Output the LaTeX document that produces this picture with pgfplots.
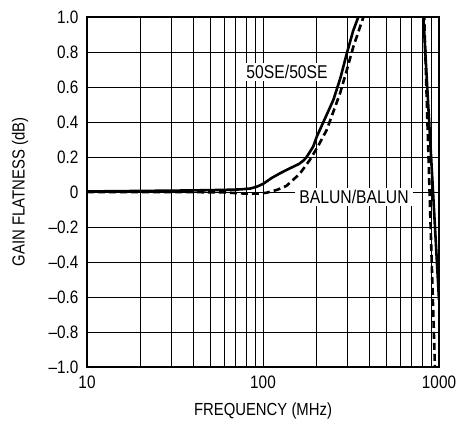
\documentclass[border=0pt]{standalone}
\usepackage{fontspec}
\setmainfont{Liberation Sans}[FakeStretch=0.85]
\usepackage{pgfplots}
\pgfplotsset{compat=1.18}
\begin{document}
\begin{tikzpicture}
\path[use as bounding box] (0,0) rectangle (457bp,435bp);
\begin{axis}[
  at={(87bp,68bp)}, anchor=south west,
  scale only axis, width=352bp, height=350bp,
  xmode=log, xmin=10, xmax=1000, ymin=-1, ymax=1,
  xtick={10,100,1000}, xticklabels={10,100,1000},
  minor xtick={20,30,40,50,60,70,80,90,200,300,400,500,600,700,800,900},
  ytick={-1,-0.8,-0.6,-0.4,-0.2,0,0.2,0.4,0.6,0.8,1},
  yticklabels={--1.0,--0.8,--0.6,--0.4,--0.2,0,0.2,0.4,0.6,0.8,1.0},
  grid=both,
  major grid style={black, line width=0.8bp},
  minor grid style={black, line width=0.8bp},
  major tick length=0pt, minor tick length=0pt,
  axis line style={line width=1.3bp},
  ticklabel style={font=\fontsize{18bp}{20bp}\selectfont},
  xticklabel style={yshift=-5bp},
  yticklabel style={xshift=-5bp},
  xlabel={FREQUENCY (MHz)}, ylabel={GAIN FLATNESS (dB)},
  label style={font=\fontsize{17.5bp}{20bp}\selectfont},
  xlabel style={at={(axis description cs:0.5,-0.127)}, anchor=center},
  ylabel style={at={(axis description cs:-0.19,0.5)}, anchor=center},
  clip=true,
]
% 50SE/50SE (solid)
\addplot[black, line width=2.6bp] coordinates {
  (10,0.003) (20,0.006) (40,0.009) (60,0.012) (75,0.015) (85,0.02)
  (92,0.03) (100,0.046) (112,0.08) (125,0.107) (142,0.135) (160,0.16)
  (170,0.18) (177,0.20) (193,0.26) (202,0.316) (225,0.42) (251,0.526)
  (275,0.65) (299,0.79) (325,0.92) (348,1.0) (380,1.2) (420,1.5)
  (760,1.5) (815,1.0) (1000,-0.617)
};
% BALUN/BALUN (dashed)
\addplot[black, line width=2.6bp, dash pattern=on 7bp off 4bp] coordinates {
  (10,0.0) (30,0.0) (60,-0.002) (75,-0.008) (85,-0.01) (95,-0.009)
  (105,-0.004) (120,0.012) (136,0.035) (162,0.105) (185,0.185) (205,0.26)
  (230,0.354) (274,0.564) (300,0.70) (326,0.83) (372,1.0) (400,1.2) (440,1.5)
  (780,1.5) (824,1.0) (948,-1.0)
};
\node[fill=white, inner xsep=3bp, inner ysep=2bp, font=\fontsize{18.5bp}{20bp}\selectfont]
  at (axis cs:137,0.686) {50SE/50SE};
\node[fill=white, inner xsep=4bp, inner ysep=2bp, font=\fontsize{18.5bp}{20bp}\selectfont]
  at (axis cs:329,-0.029) {BALUN/BALUN};
\node[anchor=east, font=\fontsize{10.5bp}{12bp}\selectfont]
  at (axis description cs:1,-0.177) {640120 G02};
\end{axis}
\end{tikzpicture}
\end{document}
